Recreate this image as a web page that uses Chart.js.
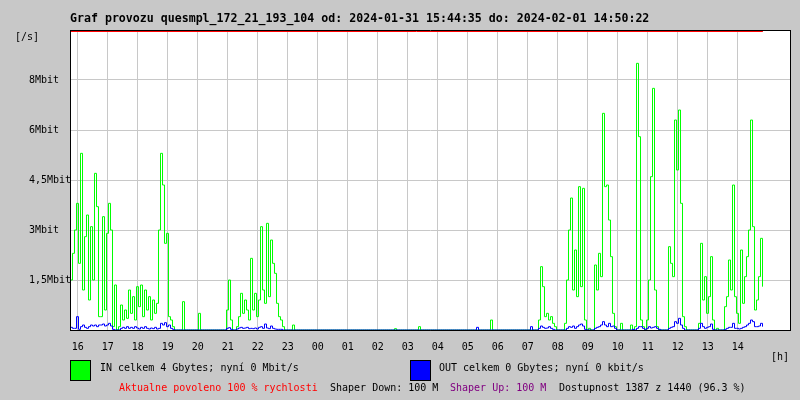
<!DOCTYPE html>
<html>
<head>
<meta charset="utf-8">
<title>Graf provozu</title>
<script src="https://cdn.jsdelivr.net/npm/chart.js@4.4.1/dist/chart.umd.min.js"></script>
<style>
  html, body { margin: 0; padding: 0; background: #c8c8c8; }
  #wrap { width: 800px; height: 400px; }
</style>
</head>
<body>
<div id="wrap"><canvas id="graf" width="800" height="400"></canvas></div>
<script>
// Graph period (hours, day 2 = +24)
const graphStart = 15 + 44 / 60 + 35 / 3600;      // 2024-01-31 15:44:35
const graphEnd = 24 + 14 + 50 / 60 + 22 / 3600;   // 2024-02-01 14:50:22
const stepMinutes = 4;

const xTickHours = [16, 17, 18, 19, 20, 21, 22, 23, 24, 25, 26, 27, 28, 29, 30, 31, 32, 33, 34, 35, 36, 37, 38];
const xTickLabels = ['16', '17', '18', '19', '20', '21', '22', '23', '00', '01', '02', '03', '04', '05', '06', '07', '08', '09', '10', '11', '12', '13', '14'];
const yTickValues = [1.5, 3, 4.5, 6, 7.5];
const yTickLabels = ['1,5Mbit', '3Mbit', '4,5Mbit', '6Mbit', '8Mbit'];

// red limit line just below the top edge
const limitMbit = [8.955, 8.955];

// IN traffic, Mbit/s, one value per 4 minutes (15 per row)
const inMbit = [
  1.5, 2.3, 3.0, 3.8, 2.0, 5.3, 1.2, 2.8, 3.45, 0.9, 3.1, 1.5, 4.7, 3.7, 0.4,
  0.4, 3.4, 0.6, 2.9, 3.8, 3.0, 0.1, 1.35, 0, 0.1, 0.75, 0.3, 0.6, 0.35, 1.2,
  0.5, 1.0, 0.3, 1.3, 0.7, 1.35, 0.4, 1.2, 0.6, 1.0, 0.3, 0.9, 0.5, 0.8, 3.0,
  5.3, 4.35, 2.6, 2.9, 0.4, 0.3, 0.1, 0, 0, 0, 0, 0.85, 0, 0, 0,
  0, 0, 0, 0, 0.5, 0, 0, 0, 0, 0, 0, 0, 0, 0, 0,
  0, 0, 0, 0.6, 1.5, 0.3, 0, 0, 0.1, 0.4, 1.1, 0.5, 0.9, 0.6, 0.3,
  2.15, 0.6, 1.1, 0.4, 0.9, 3.1, 1.2, 0.8, 3.2, 1.0, 2.7, 2.0, 1.7, 0.8, 0.4,
  0.3, 0.1, 0, 0, 0, 0, 0.15, 0, 0, 0, 0, 0, 0, 0, 0,
  0, 0, 0, 0, 0, 0, 0, 0, 0, 0, 0, 0, 0, 0, 0,
  0, 0, 0, 0, 0, 0, 0, 0, 0, 0, 0, 0, 0, 0, 0,
  0, 0, 0, 0, 0, 0, 0, 0, 0, 0, 0, 0, 0.04, 0, 0,
  0, 0, 0, 0, 0, 0, 0, 0, 0, 0.1, 0, 0, 0, 0, 0,
  0, 0, 0, 0, 0, 0, 0, 0, 0, 0, 0, 0, 0, 0, 0,
  0, 0, 0, 0, 0, 0, 0, 0, 0, 0, 0, 0, 0, 0, 0,
  0.3, 0, 0, 0, 0, 0, 0, 0, 0, 0, 0, 0, 0, 0, 0,
  0, 0, 0, 0, 0, 0, 0, 0, 0, 0.3, 1.9, 1.3, 0.4, 0.5, 0.3,
  0.4, 0.2, 0.1, 0, 0, 0, 0, 0.2, 1.5, 3.0, 3.96, 1.2, 2.4, 1.0, 4.3,
  1.3, 4.25, 0.3, 0, 0.05, 0, 0, 1.95, 1.2, 2.3, 1.6, 6.5, 4.3, 4.35, 3.3,
  2.2, 0.5, 0.1, 0, 0, 0.2, 0, 0, 0, 0, 0.15, 0, 0.1, 8.0, 5.8,
  0.3, 0.1, 0, 0.3, 1.5, 4.6, 7.25, 1.2, 0.1, 0, 0, 0, 0, 0, 2.5,
  2.0, 1.6, 6.3, 4.8, 6.6, 3.8, 0.4, 0.1, 0, 0, 0, 0, 0, 0, 0.2,
  2.6, 0.9, 1.6, 0.5, 1.0, 2.2, 0.3, 0, 0.05, 0, 0, 0, 0.7, 1.0, 2.1,
  1.2, 4.35, 1.0, 0.5, 0.2, 2.4, 0.8, 1.6, 2.2, 3.0, 6.3, 3.1, 0.6, 0.9, 1.6,
  2.75, 1.3
];

// OUT traffic, Mbit/s, same sampling
const outMbit = [
  0.08, 0.05, 0.05, 0.4, 0.02, 0.1, 0.15, 0.08, 0.05, 0.1, 0.15, 0.12, 0.15, 0.1, 0.15,
  0.15, 0.18, 0.12, 0.15, 0.2, 0.12, 0.02, 0, 0, 0, 0.05, 0.08, 0.05, 0.1, 0.05,
  0.08, 0.05, 0.1, 0.06, 0.03, 0.08, 0.05, 0.1, 0.05, 0.03, 0.06, 0.04, 0.08, 0.03, 0.05,
  0.2, 0.15, 0.22, 0.1, 0.15, 0.05, 0.02, 0, 0, 0, 0, 0, 0, 0, 0,
  0, 0, 0, 0, 0, 0, 0, 0, 0, 0, 0, 0, 0, 0, 0,
  0, 0, 0, 0.05, 0.07, 0.02, 0, 0, 0.03, 0.06, 0.08, 0.05, 0.06, 0.08, 0.04,
  0.05, 0.04, 0.06, 0.03, 0.08, 0.1, 0.05, 0.18, 0.06, 0.04, 0.12, 0.05, 0.03, 0.02, 0.02,
  0.02, 0, 0, 0, 0, 0, 0, 0, 0, 0, 0, 0, 0, 0, 0,
  0, 0, 0, 0, 0, 0, 0, 0, 0, 0, 0, 0, 0, 0, 0,
  0, 0, 0, 0, 0, 0, 0, 0, 0, 0, 0, 0, 0, 0, 0,
  0, 0, 0, 0, 0, 0, 0, 0, 0, 0, 0, 0, 0, 0, 0,
  0, 0, 0, 0, 0, 0, 0, 0, 0, 0, 0, 0, 0, 0, 0,
  0, 0, 0, 0, 0, 0, 0, 0, 0, 0, 0, 0, 0, 0, 0,
  0, 0, 0, 0, 0, 0, 0, 0, 0.08, 0, 0, 0, 0, 0, 0,
  0, 0, 0, 0, 0, 0, 0, 0, 0, 0, 0, 0, 0, 0, 0,
  0, 0, 0, 0, 0, 0.1, 0, 0, 0, 0.05, 0.12, 0.08, 0.05, 0.06, 0.1,
  0.05, 0.02, 0, 0, 0, 0, 0, 0, 0.05, 0.1, 0.08, 0.12, 0.05, 0.1, 0.15,
  0.18, 0.12, 0.02, 0, 0, 0, 0, 0.05, 0.08, 0.1, 0.15, 0.25, 0.15, 0.1, 0.2,
  0.1, 0.12, 0.05, 0, 0, 0, 0, 0, 0, 0, 0, 0.02, 0, 0.05, 0.1,
  0.1, 0.05, 0.02, 0.05, 0.1, 0.06, 0.08, 0.1, 0.05, 0.02, 0, 0, 0, 0, 0.05,
  0.08, 0.1, 0.25, 0.2, 0.35, 0.15, 0.05, 0, 0, 0, 0, 0, 0, 0, 0.05,
  0.2, 0.1, 0.05, 0.08, 0.1, 0.18, 0.02, 0, 0, 0, 0, 0, 0.02, 0.05, 0.08,
  0.08, 0.2, 0.05, 0.05, 0.03, 0.05, 0.08, 0.1, 0.15, 0.2, 0.3, 0.25, 0.1, 0.1, 0.12,
  0.2, 0.1
];

const MONO = "'DejaVu Sans Mono', monospace";
Chart.defaults.font.family = MONO;
Chart.defaults.font.size = 10;
Chart.defaults.color = '#000';

// sample i -> hour position (first minute of each 4 min bin)
function sampleTime(i) {
  return graphStart + (i * stepMinutes + 1) / 60;
}

function toPoints(values) {
  return values.map((v, i) => ({ x: sampleTime(i), y: v }));
}

// white plot, black frame, texts and legend around the graph
const rrdLook = {
  id: 'rrdLook',
  beforeDraw(chart) {
    const { ctx, chartArea: a } = chart;
    ctx.save();
    ctx.fillStyle = '#ffffff';
    ctx.fillRect(a.left, a.top, a.right - a.left, a.bottom - a.top);
    ctx.restore();
  },
  afterDatasetsDraw(chart) {
    const { ctx, chartArea: a } = chart;
    ctx.save();
    ctx.strokeStyle = '#000';
    ctx.lineWidth = 1;
    ctx.beginPath();
    ctx.moveTo(a.left, a.top + 0.5); ctx.lineTo(a.right + 1, a.top + 0.5);
    ctx.moveTo(a.right + 0.5, a.top); ctx.lineTo(a.right + 0.5, a.bottom + 1);
    ctx.moveTo(a.left, a.bottom + 0.5); ctx.lineTo(a.right + 1, a.bottom + 0.5);
    ctx.moveTo(a.left + 0.5, a.top); ctx.lineTo(a.left + 0.5, a.bottom + 1);
    ctx.stroke();
    ctx.restore();
  },
  afterDraw(chart) {
    const ctx = chart.ctx;
    ctx.save();
    ctx.textBaseline = 'middle';
    ctx.textAlign = 'left';

    ctx.fillStyle = '#000';
    ctx.font = 'bold 11.6px ' + MONO;
    ctx.fillText('Graf provozu quesmpl_172_21_193_104 od: 2024-01-31 15:44:35 do: 2024-02-01 14:50:22', 70, 19);

    ctx.font = '10px ' + MONO;
    ctx.fillText('[/s]', 15, 37);
    ctx.fillText('[h]', 771, 357);

    // legend boxes
    ctx.lineWidth = 1;
    ctx.strokeStyle = '#000';
    ctx.fillStyle = '#00ff00';
    ctx.fillRect(70, 360, 21, 21);
    ctx.strokeRect(70.5, 360.5, 20, 20);
    ctx.fillStyle = '#0000ff';
    ctx.fillRect(410, 360, 21, 21);
    ctx.strokeRect(410.5, 360.5, 20, 20);

    ctx.fillStyle = '#000';
    ctx.fillText('IN celkem 4 Gbytes; nyní 0 Mbit/s', 100, 368);
    ctx.fillText('OUT celkem 0 Gbytes; nyní 0 kbit/s', 439, 368);

    ctx.fillStyle = '#ff0000';
    ctx.fillText('Aktualne povoleno 100 % rychlosti', 119, 388);
    ctx.fillStyle = '#000';
    ctx.fillText('Shaper Down: 100 M', 330, 388);
    ctx.fillStyle = '#800080';
    ctx.fillText('Shaper Up: 100 M', 450, 388);
    ctx.fillStyle = '#000';
    ctx.fillText('Dostupnost 1387 z 1440 (96.3 %)', 559, 388);
    ctx.restore();
  }
};

new Chart(document.getElementById('graf'), {
  type: 'line',
  data: {
    datasets: [
      {
        label: 'limit',
        data: [{ x: graphStart, y: limitMbit[0] }, { x: graphEnd, y: limitMbit[1] }],
        borderColor: '#ff0000',
        borderWidth: 1,
        pointRadius: 0,
        order: 0
      },
      {
        label: 'OUT',
        data: toPoints(outMbit),
        borderColor: '#0000ff',
        borderWidth: 1,
        pointRadius: 0,
        stepped: true,
        order: 1
      },
      {
        label: 'IN',
        data: toPoints(inMbit),
        borderColor: '#00ff00',
        borderWidth: 1,
        pointRadius: 0,
        stepped: true,
        order: 2
      }
    ]
  },
  options: {
    responsive: false,
    animation: false,
    devicePixelRatio: 1,
    layout: { padding: { left: 29, top: 30, right: 10, bottom: 0 } },
    plugins: {
      legend: { display: false },
      tooltip: { enabled: false },
      title: { display: false }
    },
    scales: {
      x: {
        type: 'linear',
        min: graphStart,
        max: graphStart + 24,
        afterBuildTicks: (s) => { s.ticks = xTickHours.map(h => ({ value: h })); },
        afterFit: (s) => { s.height = 70; },
        ticks: {
          autoSkip: false,
          maxRotation: 0,
          padding: 11,
          color: '#000',
          callback: (v, i) => xTickLabels[i]
        },
        grid: { color: '#c8c8c8', drawTicks: false },
        border: { color: '#000' }
      },
      y: {
        min: 0,
        max: 9,
        afterBuildTicks: (s) => { s.ticks = yTickValues.map(v => ({ value: v })); },
        afterFit: (s) => { s.width = 41; },
        ticks: {
          crossAlign: 'far',
          color: '#000',
          callback: (v, i) => yTickLabels[i]
        },
        grid: { color: '#c8c8c8', tickLength: 3 },
        border: { color: '#000' }
      }
    }
  },
  plugins: [rrdLook]
});
</script>
</body>
</html>
